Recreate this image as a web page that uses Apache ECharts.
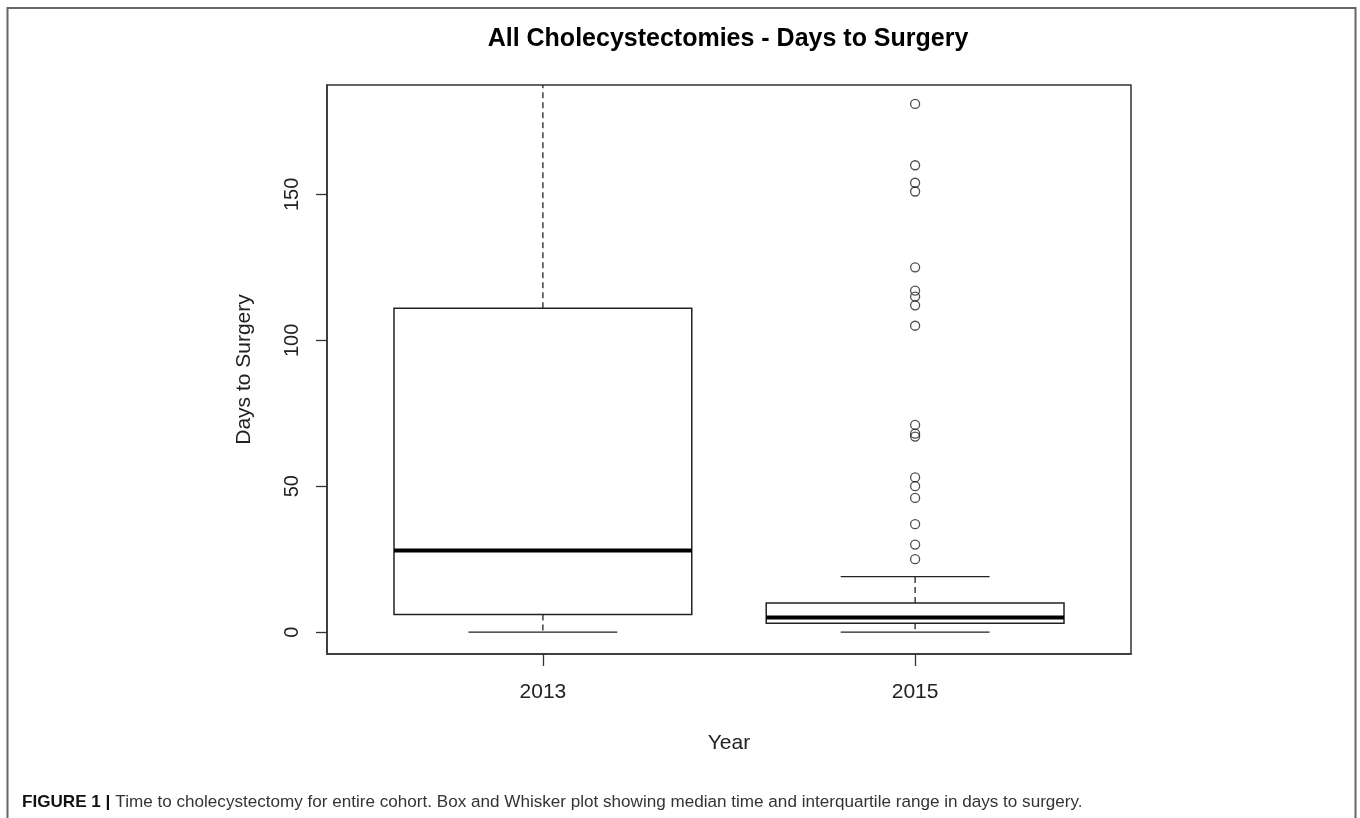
<!DOCTYPE html>
<html>
<head>
<meta charset="utf-8">
<script src="https://cdn.jsdelivr.net/npm/echarts@6/dist/echarts.min.js"></script>
<style>
html,body{margin:0;padding:0;background:#fff;}
#chart{width:1360px;height:818px;}
</style>
</head>
<body>
<div id="chart"></div>
<script>
// ---- data ----
const years = ['2013', '2015'];
// [low whisker, Q1, median, Q3, high whisker]
const box2013 = [0, 6, 28, 111, 188];
const box2015 = [0, 3, 5, 10, 19];
const outliers2015 = [181, 160, 154, 151, 125, 117, 115, 112, 105, 71, 68, 67, 53, 50, 46, 37, 30, 25];
const yTicks = [0, 50, 100, 150];
const xTicks = [1, 2];

const boxes = [box2013, box2015];
const boxData = boxes.map((b, i) => [i + 1].concat(b));
const outlierData = outliers2015.map(v => [2, v]);

const chart = echarts.init(document.getElementById('chart'));
const FONT = '"Liberation Sans", Arial, sans-serif';
const BOXW = 0.8, CAPW = 0.4;

function renderBox(params, api) {
  const x = api.value(0);
  const lo = api.value(1), q1 = api.value(2), med = api.value(3), q3 = api.value(4), hi = api.value(5);
  const pL = api.coord([x - BOXW / 2, q1]);
  const pR = api.coord([x + BOXW / 2, q3]);
  const c = api.coord([x, med]);
  const cL = api.coord([x - CAPW / 2, lo])[0];
  const cR = api.coord([x + CAPW / 2, lo])[0];
  const yLo = api.coord([x, lo])[1], yHi = api.coord([x, hi])[1];
  const yQ1 = pL[1], yQ3 = pR[1];
  const line = '#222';
  const dashed = { stroke: line, lineWidth: 1.3, lineDash: [6, 4] };
  const solid = { stroke: line, lineWidth: 1.3 };
  return {
    type: 'group',
    children: [
      { type: 'line', shape: { x1: c[0], y1: yQ3, x2: c[0], y2: yHi }, style: dashed },
      { type: 'line', shape: { x1: c[0], y1: yQ1, x2: c[0], y2: yLo }, style: dashed },
      { type: 'line', shape: { x1: cL, y1: yHi, x2: cR, y2: yHi }, style: solid },
      { type: 'line', shape: { x1: cL, y1: yLo, x2: cR, y2: yLo }, style: solid },
      { type: 'rect', shape: { x: pL[0], y: yQ3, width: pR[0] - pL[0], height: yQ1 - yQ3 }, style: { fill: '#fff', stroke: line, lineWidth: 1.5 } },
      { type: 'line', shape: { x1: pL[0], y1: c[1], x2: pR[0], y2: c[1] }, style: { stroke: '#000', lineWidth: 4 } }
    ]
  };
}

chart.setOption({
  animation: false,
  backgroundColor: '#fff',
  title: [
    {
      text: 'All Cholecystectomies - Days to Surgery',
      left: 723, textAlign: 'center', top: 22,
      textStyle: { fontFamily: FONT, fontSize: 25, fontWeight: 'bold', color: '#000' }
    },
    {
      text: '{b|FIGURE 1 |} {r|Time to cholecystectomy for entire cohort. Box and Whisker plot showing median time and interquartile range in days to surgery.}',
      left: 17, top: 788,
      textStyle: {
        fontWeight: 'normal',
        rich: {
          b: { fontFamily: FONT, fontSize: 17.1, fontWeight: 'bold', color: '#111' },
          r: { fontFamily: FONT, fontSize: 17.1, fontWeight: 'normal', color: '#333' }
        }
      }
    }
  ],
  graphic: [
    { type: 'rect', shape: { x: 7.5, y: 8, width: 1348, height: 900 }, style: { fill: 'none', stroke: '#666', lineWidth: 2 }, silent: true }
  ],
  grid: { left: 327, right: 229, top: 85, bottom: 164, show: true, borderColor: '#333', borderWidth: 1.5, backgroundColor: 'transparent' },
  xAxis: {
    type: 'value', min: 0.42, max: 2.58,
    name: 'Year', nameLocation: 'middle', nameGap: 79,
    nameTextStyle: { fontFamily: FONT, fontSize: 21, color: '#222' },
    axisLine: { show: true, onZero: false, lineStyle: { color: '#333', width: 1.5 } },
    axisTick: { show: true, customValues: xTicks, length: 12, lineStyle: { color: '#333', width: 1.3 } },
    axisLabel: { customValues: xTicks, formatter: v => years[Math.round(v) - 1] || '', margin: 28, fontFamily: FONT, fontSize: 21, color: '#222' },
    splitLine: { show: false }
  },
  yAxis: {
    type: 'value', min: -7.5, max: 187.5,
    name: 'Days to Surgery', nameLocation: 'middle', nameGap: 72, nameRotate: 90,
    nameTextStyle: { fontFamily: FONT, fontSize: 21, color: '#222' },
    axisLine: { show: true, onZero: false, lineStyle: { color: '#333', width: 1.5 } },
    axisTick: { show: true, customValues: yTicks, length: 11, lineStyle: { color: '#333', width: 1.3 } },
    axisLabel: { customValues: yTicks, rotate: 90, margin: 25, fontFamily: FONT, fontSize: 20, color: '#222' },
    splitLine: { show: false }
  },
  series: [
    {
      type: 'custom',
      renderItem: renderBox,
      data: boxData,
      clip: true,
      encode: { x: 0, y: [1, 2, 3, 4, 5] },
      z: 2
    },
    {
      type: 'scatter',
      data: outlierData,
      symbol: 'circle',
      symbolSize: 9,
      itemStyle: { color: 'transparent', borderColor: '#222', borderWidth: 1.3 },
      z: 3
    }
  ]
});
</script>
</body>
</html>
